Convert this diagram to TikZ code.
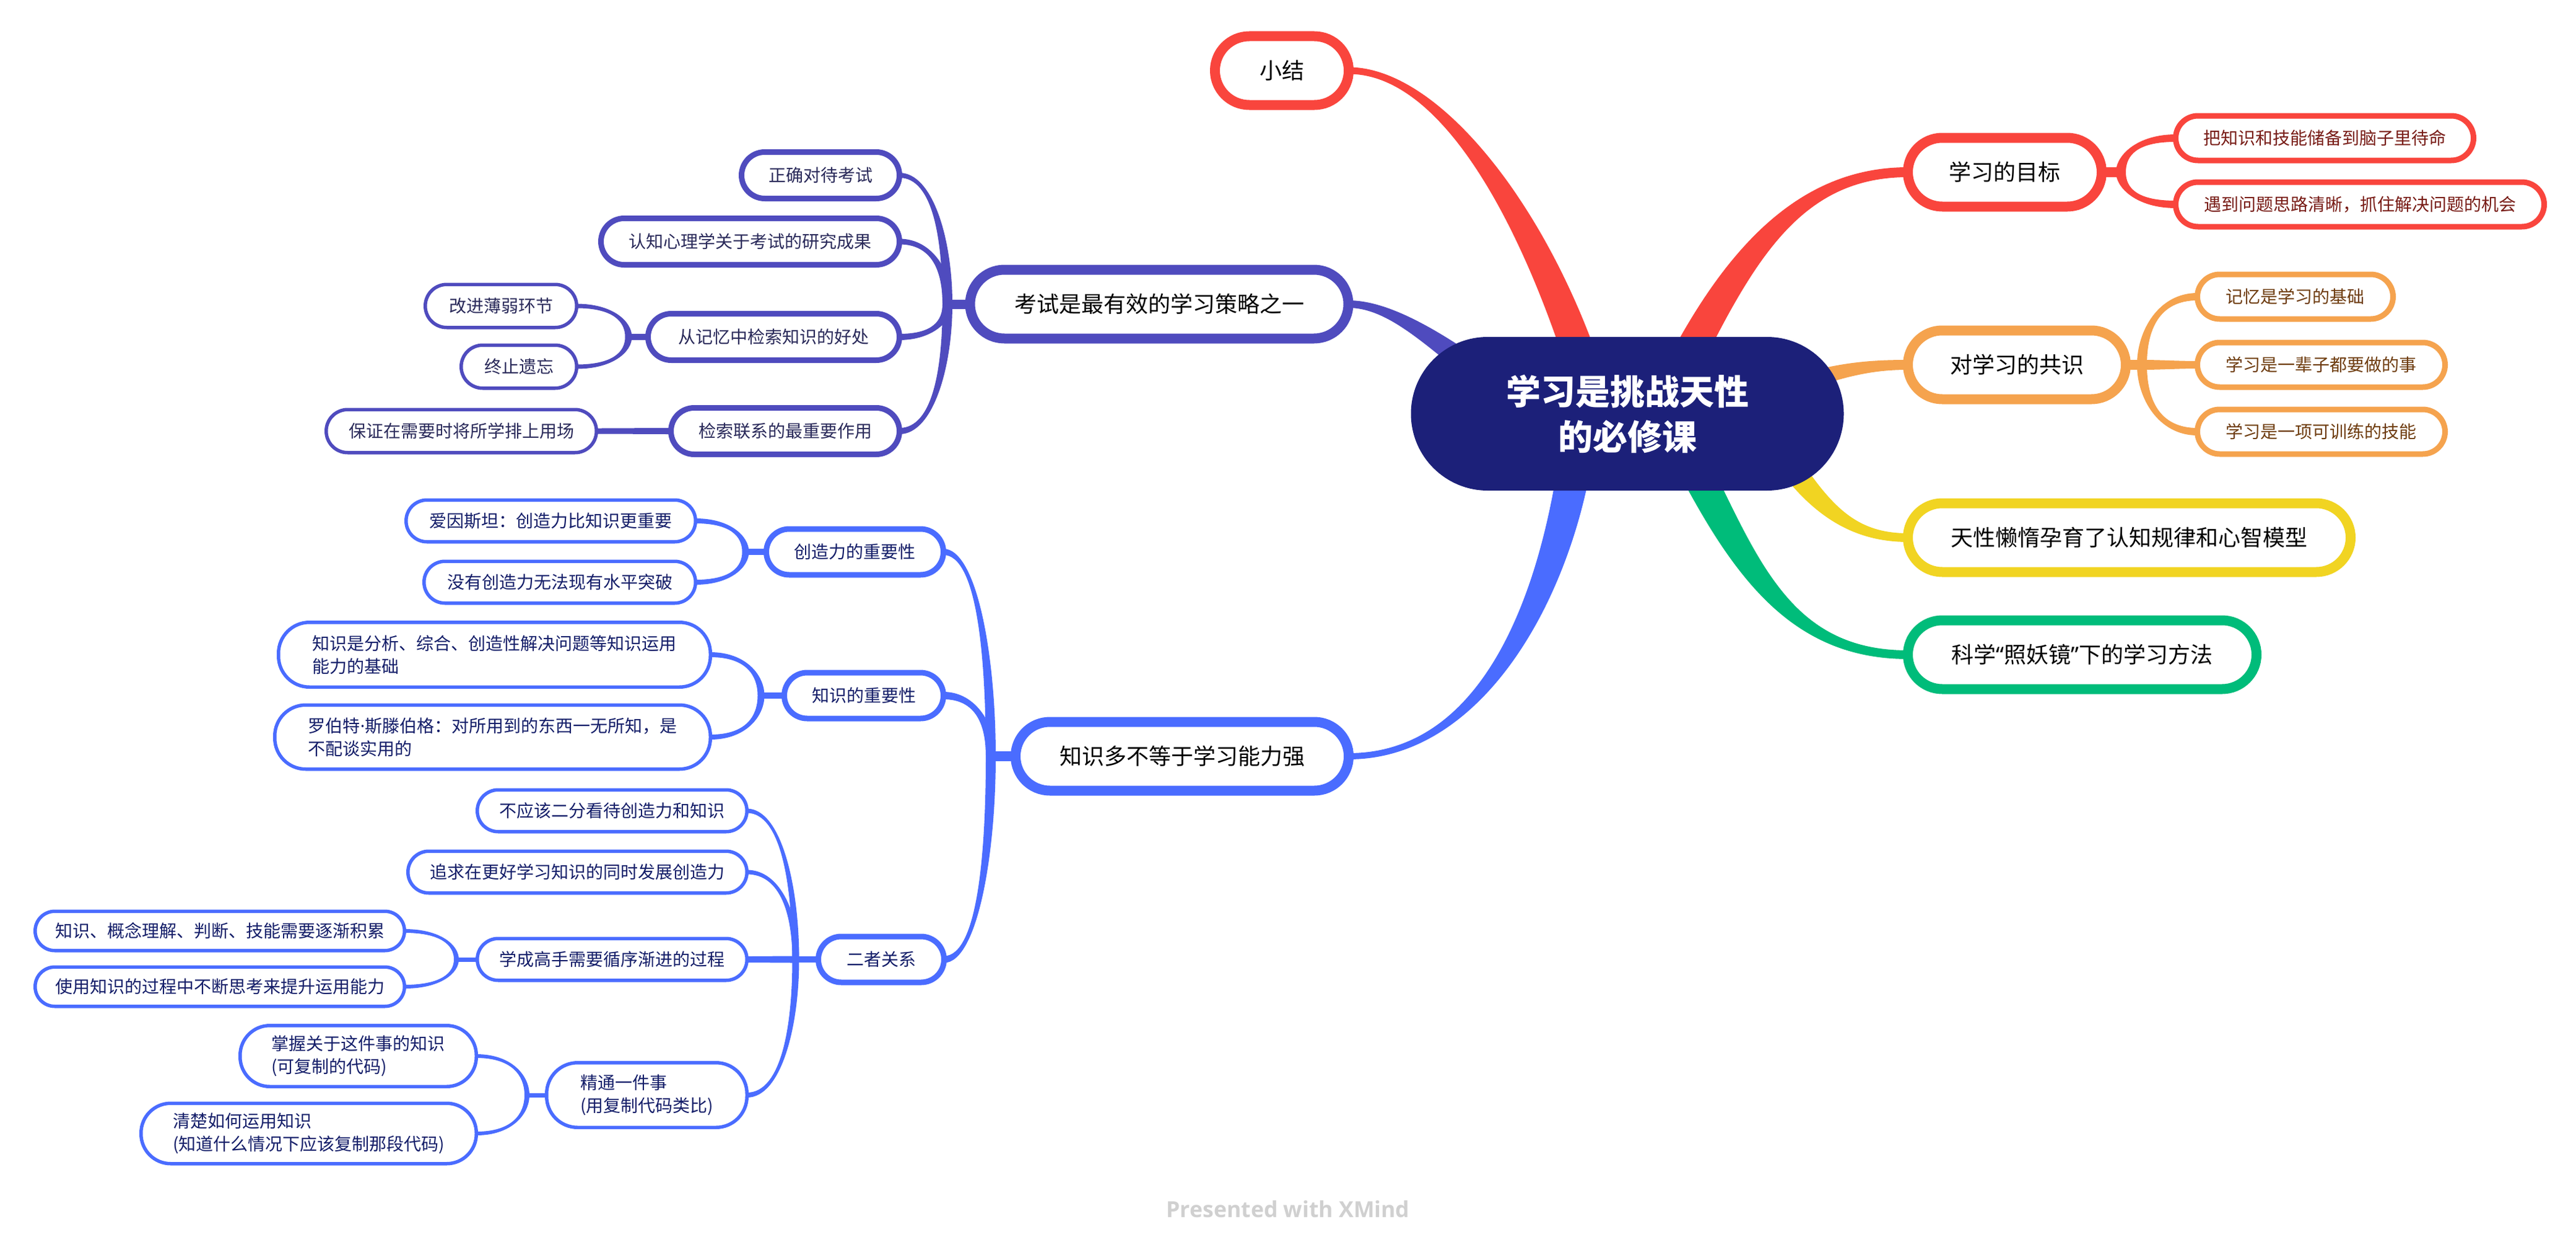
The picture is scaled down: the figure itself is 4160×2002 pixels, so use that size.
\documentclass[tikz,border=0pt]{standalone}
\usepackage{graphicx}
\usepackage{fontspec}
\setmainfont{Noto Sans CJK SC}
\newfontfamily\footfont{Open Sans}
\newfontfamily\latq{Noto Sans}
\usetikzlibrary{calc}
\pgfdeclarelayer{paper}
\pgfdeclarelayer{bg}
\pgfsetlayers{paper,bg,main}

\definecolor{cRed}{RGB}{249,69,61}
\definecolor{cOra}{RGB}{245,163,78}
\definecolor{cYel}{RGB}{241,212,34}
\definecolor{cGrn}{RGB}{0,188,122}
\definecolor{cBlu}{RGB}{74,108,255}
\definecolor{cPur}{RGB}{79,75,190}
\definecolor{cNavy}{RGB}{28,32,121}
\definecolor{tRed}{RGB}{120,28,22}
\definecolor{tOra}{RGB}{110,60,15}
\definecolor{tPur}{RGB}{42,42,90}
\definecolor{tBlu}{RGB}{20,30,105}
\definecolor{cFoot}{RGB}{208,208,208}

\newcommand\taperfill[7]{%
  \coordinate (tA) at #2;
  \coordinate (tB) at #3;
  \coordinate (tC) at #4;
  \coordinate (tD) at #5;
  \coordinate (tA1) at ($(tA)!#6pt!90:(tB)$);
  \coordinate (tA2) at ($(tA)!#6pt!-90:(tB)$);
  \coordinate (tD1) at ($(tD)!#7pt!-90:(tC)$);
  \coordinate (tD2) at ($(tD)!#7pt!90:(tC)$);
  \fill[#1] (tA1) .. controls ($(tB)+(tA1)-(tA)$) and ($(tC)+(tD1)-(tD)$) .. (tD1)
    -- (tD2) .. controls ($(tC)+(tD2)-(tD)$) and ($(tB)+(tA2)-(tA)$) .. (tA2) -- cycle;
}
\newcommand\subbr[5]{%
  \coordinate (sK) at (#2 |- #3);
  \taperfill{#1}{(#2)}{($(#2)!0.5!(sK)$)}{($(sK)!0.3!(#3)$)}{(#3)}{#4}{#5}%
}
\newcommand\straightbr[5]{%
  \taperfill{#1}{(#2)}{($(#2)!0.33!(#3)$)}{($(#2)!0.67!(#3)$)}{(#3)}{#4}{#5}%
}

\tikzset{
  nbox/.style={draw, fill=white, inner sep=0pt, outer sep=0pt, align=left},
  sz/.style n args={3}{minimum width=#1pt, minimum height=#2pt, rounded corners=#3pt},
  lvA/.style={nbox, line width=16pt, font=\fontsize{36}{44}\selectfont, text=black},
  lvB/.style={nbox, line width=9pt, font=\fontsize{28}{37}\selectfont},
  lvC/.style={nbox, line width=5.5pt, font=\fontsize{28}{37}\selectfont},
  red2/.style={lvB, draw=cRed, text=tRed},
  ora2/.style={lvB, draw=cOra, text=tOra},
  pur2/.style={lvB, draw=cPur, text=tPur},
  pur3/.style={lvC, draw=cPur, text=tPur},
  blu2/.style={lvB, draw=cBlu, text=tBlu},
  blu3/.style={lvC, draw=cBlu, text=tBlu},
}

\begin{document}
\begin{tikzpicture}[x=1pt,y=-1pt]
\begin{pgfonlayer}{paper}
  \fill[white] (0,0) rectangle (4160,2002);
\end{pgfonlayer}
\useasboundingbox (0,0) rectangle (4160,2002);

% root
\node[fill=cNavy, text=white, inner sep=0pt, outer sep=0pt, align=center,
      minimum width=699pt, minimum height=248pt, rounded corners=124pt,
      font=\bfseries\fontsize{56}{73}\selectfont] (root) at (2628,668) {学习是挑战天性\\的必修课};

% level 1
\node[lvA, draw=cRed, sz={216}{111}{55.5}] (xj) at (2070,114) {小结};
\node[lvA, draw=cRed, sz={313}{111}{55.5}] (mb) at (3237.5,278) {学习的目标};
\node[lvA, draw=cOra, sz={352}{111}{55.5}] (gs) at (3257,589) {对学习的共识};
\node[lvA, draw=cYel, sz={715}{111}{55.5}] (tx) at (3438.5,868) {天性懒惰孕育了认知规律和心智模型};
\node[lvA, draw=cGrn, sz={563}{111}{55.5}] (kx) at (3362.5,1057) {科学{\latq“}照妖镜{\latq”}下的学习方法};
\node[lvA, draw=cPur, sz={611}{111}{55.5}] (ks) at (1872,491) {考试是最有效的学习策略之一};
\node[lvA, draw=cBlu, sz={538}{111}{55.5}] (zs) at (1909,1221) {知识多不等于学习能力强};

% right level 2
\node[red2, sz={481}{72}{36}] (mb1) at (3754,223) {把知识和技能储备到脑子里待命};
\node[red2, sz={595}{72}{36}] (mb2) at (3811,330) {遇到问题思路清晰，抓住解决问题的机会};
\node[ora2, sz={316}{72}{36}] (gs1) at (3706.5,479) {记忆是学习的基础};
\node[ora2, sz={400}{72}{36}] (gs2) at (3748.5,589) {学习是一辈子都要做的事};
\node[ora2, sz={400}{72}{36}] (gs3) at (3748.5,697) {学习是一项可训练的技能};

% purple
\node[pur2, sz={255}{75}{37.5}] (ks1) at (1325,283) {正确对待考试};
\node[pur2, sz={482}{75}{37.5}] (ks2) at (1211.5,390) {认知心理学关于考试的研究成果};
\node[pur2, sz={406}{75}{37.5}] (ks3) at (1249.5,544) {从记忆中检索知识的好处};
\node[pur2, sz={369}{75}{37.5}] (ks4) at (1268,696) {检索联系的最重要作用};
\node[pur3, sz={244.5}{69.5}{34.75}] (ks31) at (809,494) {改进薄弱环节};
\node[pur3, sz={186.5}{69.5}{34.75}] (ks32) at (838,592) {终止遗忘};
\node[pur3, sz={436.5}{69.5}{34.75}] (ks41) at (745,696) {保证在需要时将所学排上用场};

% blue
\node[blu2, sz={286}{74}{37}] (zs1) at (1380.5,891) {创造力的重要性};
\node[blu2, sz={257}{74}{37}] (zs2) at (1395,1123) {知识的重要性};
\node[blu2, sz={203}{74}{37}] (zs3) at (1423,1549) {二者关系};
\node[blu3, sz={467.5}{67.5}{33.75}] (zs11) at (889.5,841) {爱因斯坦：创造力比知识更重要};
\node[blu3, sz={438.5}{67.5}{33.75}] (zs12) at (904,940) {没有创造力无法现有水平突破};
\node[blu3, sz={697.5}{104.5}{50}] (zs21) at (798.5,1057) {知识是分析、综合、创造性解决问题等知识运用\\能力的基础};
\node[blu3, sz={703.5}{103.5}{50}] (zs22) at (795.5,1190) {罗伯特{\latq·}斯滕伯格：对所用到的东西一无所知，是\\不配谈实用的};
\node[blu3, sz={435.5}{67.5}{33.75}] (zs31) at (988.5,1309) {不应该二分看待创造力和知识};
\node[blu3, sz={547.5}{67.5}{33.75}] (zs32) at (932.5,1408) {追求在更好学习知识的同时发展创造力};
\node[blu3, sz={435.5}{67.5}{33.75}] (zs33) at (988.5,1549) {学成高手需要循序渐进的过程};
\node[blu3, sz={323.5}{104.5}{50}] (zs34) at (1044.5,1768) {精通一件事\\(用复制代码类比)};
\node[blu3, sz={596.5}{63.5}{31.75}] (zs331) at (355,1503) {知识、概念理解、判断、技能需要逐渐积累};
\node[blu3, sz={596.5}{63.5}{31.75}] (zs332) at (355,1593) {使用知识的过程中不断思考来提升运用能力};
\node[blu3, sz={381.5}{98.5}{48}] (zs341) at (578.5,1705) {掌握关于这件事的知识\\(可复制的代码)};
\node[blu3, sz={541.5}{97.5}{48}] (zs342) at (498.5,1830) {清楚如何运用知识\\(知道什么情况下应该复制那段代码)};

% footer
\node[text=cFoot, font=\footfont\bfseries, inner sep=0pt] (foot) at (2080,1952) {\resizebox{393pt}{!}{Presented with XMind}};

% forks
\coordinate (fmb) at (3425,278);
\coordinate (fgs) at (3459,589);
\coordinate (fks) at (1530,491);
\coordinate (fks3) at (1015,544);
\coordinate (fzs) at (1600,1221);
\coordinate (fzs1) at (1204,891);
\coordinate (fzs2) at (1229,1123);
\coordinate (fzs3) at (1285,1549);
\coordinate (fzs33) at (737,1549);
\coordinate (fzs34) at (851,1768);

\begin{pgfonlayer}{bg}
  % main branches
  \taperfill{cRed}{($(root.center)+(-53,-18)$)}{(2490,360)}{(2330,114)}{(xj.east)}{27}{5.5}
  \taperfill{cRed}{($(root.center)+(66,-28)$)}{(2800,420)}{(2900,278)}{(mb.west)}{27}{8}
  \taperfill{cOra}{($(root.center)+(242,-38)$)}{(2960,600)}{(3010,589)}{(gs.west)}{14}{8}
  \taperfill{cYel}{($(root.center)+(242,52)$)}{(2935,820)}{(2990,868)}{(tx.west)}{19}{7}
  \taperfill{cGrn}{($(root.center)+(81,32)$)}{(2810,900)}{(2880,1057)}{(kx.west)}{27}{7}
  \taperfill{cPur}{($(root.center)+(-208,-43)$)}{(2330,560)}{(2250,491)}{(ks.east)}{19}{6}
  \taperfill{cBlu}{($(root.center)+(-78,32)$)}{(2520,950)}{(2400,1221)}{(zs.east)}{27}{5}

  % red sub
  \draw[cRed, line width=16pt] (mb.east) -- (fmb);
  \subbr{cRed}{fmb}{mb1.west}{8}{6}
  \subbr{cRed}{fmb}{mb2.west}{8}{6}
  % orange sub
  \draw[cOra, line width=16pt] (gs.east) -- (fgs);
  \subbr{cOra}{fgs}{gs1.west}{8}{6}
  \straightbr{cOra}{fgs}{gs2.west}{8}{6}
  \subbr{cOra}{fgs}{gs3.west}{8}{6}
  % purple sub
  \draw[cPur, line width=15pt] (ks.west) -- (fks);
  \subbr{cPur}{fks}{ks1.east}{8}{4}
  \subbr{cPur}{fks}{ks2.east}{8}{4.5}
  \subbr{cPur}{fks}{ks3.east}{8}{5}
  \subbr{cPur}{fks}{ks4.east}{8}{5}
  \draw[cPur, line width=10pt] (ks3.west) -- (fks3);
  \subbr{cPur}{fks3}{ks31.east}{5.5}{3.5}
  \subbr{cPur}{fks3}{ks32.east}{5.5}{3.5}
  \straightbr{cPur}{ks4.west}{ks41.east}{5}{4.5}
  % blue sub
  \draw[cBlu, line width=16pt] (zs.west) -- (fzs);
  \subbr{cBlu}{fzs}{zs1.east}{8}{5}
  \subbr{cBlu}{fzs}{zs2.east}{8}{6}
  \subbr{cBlu}{fzs}{zs3.east}{8}{5.5}
  \draw[cBlu, line width=10pt] (zs1.west) -- (fzs1);
  \subbr{cBlu}{fzs1}{zs11.east}{5.5}{4}
  \subbr{cBlu}{fzs1}{zs12.east}{5.5}{4}
  \draw[cBlu, line width=10pt] (zs2.west) -- (fzs2);
  \subbr{cBlu}{fzs2}{zs21.east}{5.5}{4}
  \subbr{cBlu}{fzs2}{zs22.east}{5.5}{4}
  \draw[cBlu, line width=10pt] (zs3.west) -- (fzs3);
  \subbr{cBlu}{fzs3}{zs31.east}{5.5}{3.5}
  \subbr{cBlu}{fzs3}{zs32.east}{5.5}{3.5}
  \straightbr{cBlu}{fzs3}{zs33.east}{5.5}{5}
  \subbr{cBlu}{fzs3}{zs34.east}{5.5}{4}
  \draw[cBlu, line width=7pt] (zs33.west) -- (fzs33);
  \subbr{cBlu}{fzs33}{zs331.east}{4}{3}
  \subbr{cBlu}{fzs33}{zs332.east}{4}{3}
  \draw[cBlu, line width=7pt] (zs34.west) -- (fzs34);
  \subbr{cBlu}{fzs34}{zs341.east}{4}{3}
  \subbr{cBlu}{fzs34}{zs342.east}{4}{3}
\end{pgfonlayer}
\end{tikzpicture}
\end{document}
